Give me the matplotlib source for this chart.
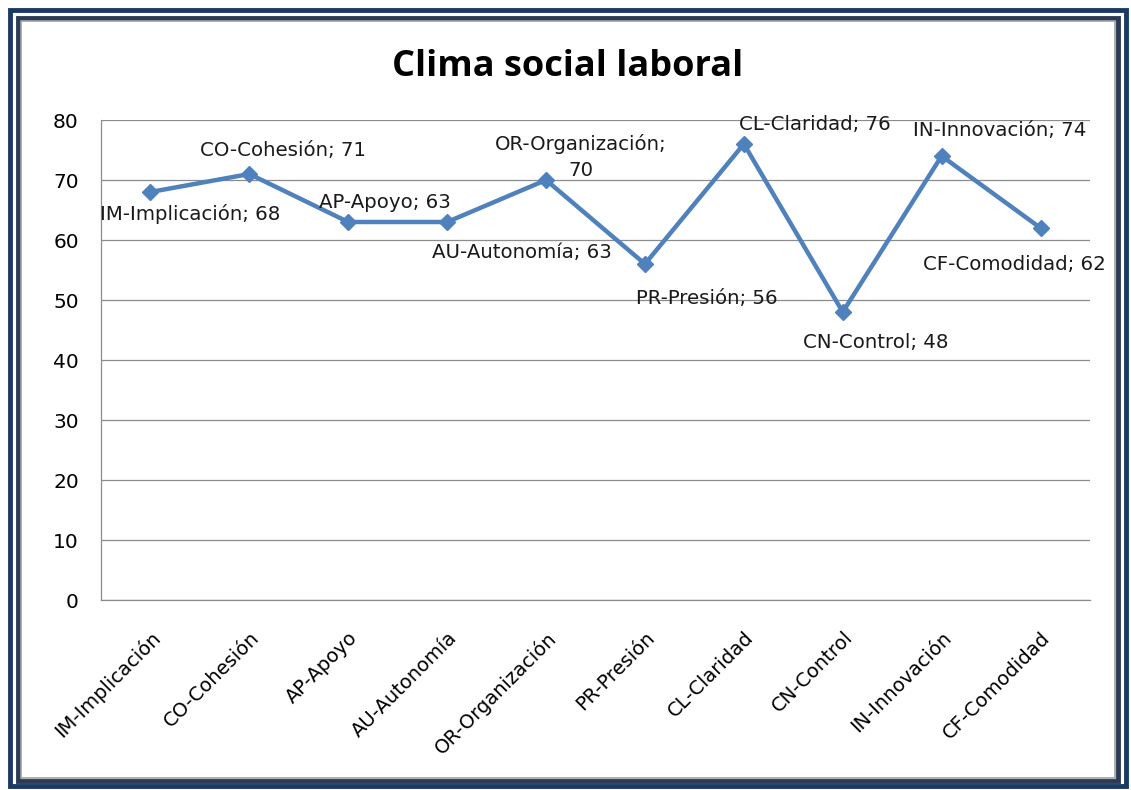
import matplotlib.pyplot as plt
from matplotlib.patches import Rectangle
from matplotlib.transforms import ScaledTranslation

# === DATA ===
categories = ['IM-Implicación', 'CO-Cohesión', 'AP-Apoyo', 'AU-Autonomía', 'OR-Organización',
              'PR-Presión', 'CL-Claridad', 'CN-Control', 'IN-Innovación', 'CF-Comodidad']
values = [68, 71, 63, 63, 70, 56, 76, 48, 74, 62]
yticks = [0, 10, 20, 30, 40, 50, 60, 70, 80]

# label offsets in pixels (dx, dy) from each point
label_offsets = [(40, -22), (34, 24), (37, 20), (75, -31), (35, 23),
                 (62, -35), (71, 19), (33, -30), (58, 26), (-26, -37)]
label_text = [f'{c}; {v}' for c, v in zip(categories, values)]
label_text[4] = 'OR-Organización;\n70'

plt.rcParams['font.family'] = ['DejaVu Sans']

fig = plt.figure(figsize=(11.31, 7.90), dpi=100)
W, H = 1131, 790

def px(x, y, w, h):
    return (x / W, 1 - (y + h) / H, w / W, h / H)

ax = fig.add_axes(px(101, 120, 989, 480))

x = list(range(len(categories)))
ax.plot(x, values, color='#4F81BD', linewidth=3.2, marker='D', markersize=8,
        markerfacecolor='#4F81BD', markeredgecolor='#4F81BD', zorder=3)

for i, (t, (dx, dy)) in enumerate(zip(label_text, label_offsets)):
    ax.annotate(t, (i, values[i]), xytext=(dx, dy), textcoords='offset pixels',
                ha='center', va='center', fontsize=14.2, color='#1a1a1a',
                linespacing=1.45, zorder=4)

ax.set_xlim(-0.5, len(categories) - 0.5)
ax.set_ylim(0, 80)
ax.set_yticks(yticks)
ax.set_xticks(x)
ax.set_xticklabels(categories, rotation=45, ha='right', va='top',
                   rotation_mode='anchor', fontsize=14)
shift = ScaledTranslation(5 / 100, 0, fig.dpi_scale_trans)
for lab in ax.get_xticklabels():
    lab.set_transform(lab.get_transform() + shift)
ax.tick_params(axis='y', length=0, pad=16, labelsize=14.5)
ax.tick_params(axis='x', length=0, pad=20)
ax.grid(axis='y', color='#8c8c8c', linewidth=0.9)
ax.set_axisbelow(True)
for s in ['top', 'right']:
    ax.spines[s].set_visible(False)
for s in ['left', 'bottom']:
    ax.spines[s].set_color('#8c8c8c')
    ax.spines[s].set_linewidth(0.9)

fig.text(568 / W, 1 - 67 / H, 'Clima social laboral', ha='center', va='center',
         fontsize=26, fontweight='bold', color='black', family=['Open Sans', 'DejaVu Sans'])

# frame around the picture
fig.patches.append(Rectangle((10 / W, 1 - 786 / H), 1116 / W, 776 / H, transform=fig.transFigure,
                             fill=False, edgecolor='#1B3A63', linewidth=3.5))
fig.patches.append(Rectangle((18 / W, 1 - 781 / H), 1100 / W, 763 / H, transform=fig.transFigure,
                             fill=False, edgecolor='#2B3A55', linewidth=3.5))
fig.patches.append(Rectangle((21 / W, 1 - 778 / H), 1094 / W, 757 / H, transform=fig.transFigure,
                             fill=False, edgecolor='#A0A0A0', linewidth=1.2))

fig.savefig('out.png', dpi=100)
